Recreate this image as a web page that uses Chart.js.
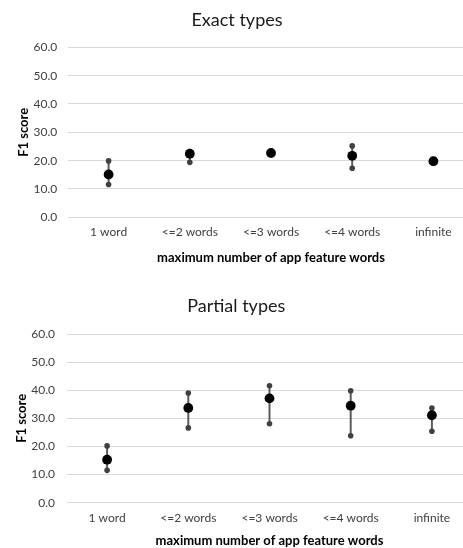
<!DOCTYPE html>
<html>
<head>
<meta charset="utf-8">
<script src="https://cdn.jsdelivr.net/npm/chart.js@4.4.1/dist/chart.umd.min.js"></script>
<style>
  html, body { margin: 0; padding: 0; background: #fff; overflow: hidden; }
  #wrap { position: relative; width: 463px; height: 548px; overflow: hidden; }
  #c1 { position: absolute; left: 0; top: 0; }
  #c2 { position: absolute; left: 0; top: 285px; }
</style>
</head>
<body>
<div id="wrap">
  <canvas id="c1" width="484" height="270"></canvas>
  <canvas id="c2" width="484" height="270"></canvas>
</div>
<script>
const categories = ['1 word', '<=2 words', '<=3 words', '<=4 words', 'infinite'];
const yTickValues = [0, 10, 20, 30, 40, 50, 60];

const exactMean  = [15.1, 22.4, 22.7, 21.7, 19.8];
const exactUpper = [19.9, 23.3, 23.2, 25.2, 20.4];
const exactLower = [11.6, 19.4, 22.3, 17.3, 19.1];

const partialMean  = [15.3, 33.7, 37.1, 34.5, 31.1];
const partialUpper = [20.2, 39.0, 41.6, 39.8, 33.7];
const partialLower = [11.5, 26.6, 28.1, 23.8, 25.4];

const FONT = 'Lato, "Open Sans", sans-serif';

function makeChart(id, titleText, mean, upper, lower, g) {
  const ranges = lower.map((l, i) => [l, upper[i]]);
  return new Chart(document.getElementById(id), {
    type: 'bar',
    data: {
      labels: categories,
      datasets: [
        { type: 'line', label: 'mean', data: mean, showLine: false, order: 0,
          pointRadius: 4.9, pointHoverRadius: 4.9, pointBackgroundColor: '#000', pointBorderWidth: 0 },
        { type: 'line', label: 'upper', data: upper, showLine: false, order: 1,
          pointRadius: 2.8, pointHoverRadius: 2.8, pointBackgroundColor: '#404040', pointBorderWidth: 0 },
        { type: 'line', label: 'lower', data: lower, showLine: false, order: 1,
          pointRadius: 2.8, pointHoverRadius: 2.8, pointBackgroundColor: '#404040', pointBorderWidth: 0 },
        { type: 'bar', label: 'range', data: ranges, order: 2,
          backgroundColor: '#595959', barThickness: 1.3, borderWidth: 0 }
      ]
    },
    options: {
      responsive: false,
      animation: false,
      events: [],
      layout: { padding: { top: 0, left: 0, right: g.padRight, bottom: 0 } },
      plugins: {
        legend: { display: false },
        tooltip: { enabled: false },
        title: {
          display: true, text: titleText, color: '#1a1a1a',
          font: { family: FONT, size: 18, weight: 'normal' },
          padding: { top: g.titleTop, bottom: g.titleBottom }
        }
      },
      scales: {
        x: {
          grid: { display: false, drawTicks: false },
          border: { display: false },
          ticks: { color: '#404040', font: { family: FONT, size: 12 }, padding: g.xTickPad, maxRotation: 0, autoSkip: false },
          title: {
            display: true, text: 'maximum number of app feature words', color: '#000',
            font: { family: FONT, size: 13, weight: 'bold' },
            padding: { top: 4, bottom: g.xTitleBottom }
          },
          afterFit: s => { s.height = g.xHeight; }
        },
        y: {
          min: 0, max: 60,
          afterBuildTicks: s => { s.ticks = yTickValues.map(v => ({ value: v })); },
          grid: { color: '#d9d9d9', lineWidth: 1, drawTicks: false },
          border: { display: false },
          ticks: { color: '#404040', font: { family: FONT, size: 12 }, padding: g.yTickPad,
                   callback: v => Number(v).toFixed(1) },
          title: {
            display: true, text: 'F1 score', color: '#000',
            font: { family: FONT, size: 13, weight: 'bold' },
            padding: { top: g.yTitlePad, bottom: 0 }
          },
          afterFit: s => { s.width = g.yWidth; }
        }
      }
    }
  });
}

makeChart('c1', 'Exact types', exactMean, exactUpper, exactLower,
  { padRight: 10, titleTop: 9.2, titleBottom: 16.5, xHeight: 52.7, xTickPad: 8, xTitleBottom: 4.2,
    yWidth: 68, yTickPad: 10.7, yTitlePad: 16 });
makeChart('c2', 'Partial types', partialMean, partialUpper, partialLower,
  { padRight: 11.5, titleTop: 10.2, titleBottom: 17.2, xHeight: 52.3, xTickPad: 8, xTitleBottom: 6.2,
    yWidth: 66.5, yTickPad: 11.5, yTitlePad: 14 });
</script>
</body>
</html>
